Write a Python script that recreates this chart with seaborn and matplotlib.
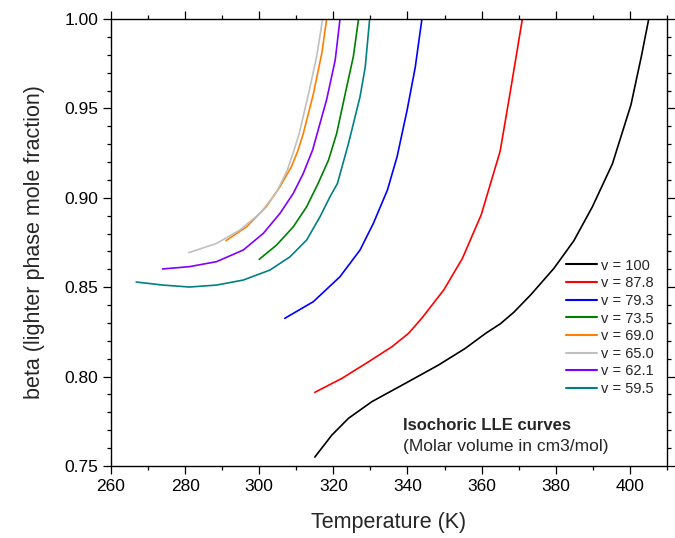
import numpy as np
import pandas as pd
import matplotlib
matplotlib.use("Agg")
import matplotlib.pyplot as plt
from matplotlib.ticker import MultipleLocator, FormatStrFormatter
import seaborn as sns

# Isochoric liquid-liquid equilibrium curves: temperature (K) vs. beta
labels = ["v = 100", "v = 87.8", "v = 79.3", "v = 73.5",
          "v = 69.0", "v = 65.0", "v = 62.1", "v = 59.5"]
colors = ["#000000", "#FF0000", "#0000FF", "#008000",
          "#FF8000", "#C0C0C0", "#8000FF", "#008080"]

t_100 = [315.0, 319.6, 324.1, 330.4, 339.4, 348.4, 355.6, 361.1, 365.1, 368.7,
         373.2, 379.5, 384.9, 389.9, 395.3, 400.3, 403.1, 405.1]
b_100 = [0.755, 0.7673, 0.7767, 0.786, 0.7962, 0.8065, 0.8158, 0.8242, 0.8296, 0.836,
         0.8456, 0.8605, 0.876, 0.895, 0.919, 0.952, 0.979, 1.000]

t_878 = [315.0, 322.3, 329.5, 335.8, 340.3, 344.0, 349.8, 354.8, 359.9, 365.0, 367.8, 371.0]
b_878 = [0.7912, 0.799, 0.8083, 0.8167, 0.8242, 0.8330, 0.8485, 0.866, 0.8905, 0.926, 0.960, 1.000]

t_793 = [306.9, 314.6, 321.8, 327.2, 330.8, 334.6, 337.2, 339.9, 342.1, 343.9]
b_793 = [0.8326, 0.8419, 0.8559, 0.8708, 0.8857, 0.9044, 0.923, 0.949, 0.973, 1.000]

t_735 = [300.0, 304.7, 309.2, 312.8, 315.9, 318.7, 320.9, 323.6, 325.4, 326.8]
b_735 = [0.8656, 0.8736, 0.8838, 0.895, 0.9081, 0.9211, 0.936, 0.962, 0.979, 1.000]

t_690 = [291.0, 296.6, 301.9, 305.6, 308.7, 310.5, 311.9, 314.6, 316.9, 318.2]
b_690 = [0.876, 0.8838, 0.895, 0.9062, 0.9174, 0.9267, 0.936, 0.958, 0.981, 1.000]

t_650 = [281.0, 288.5, 294.8, 300.2, 304.5, 307.6, 309.4, 310.8, 313.5, 315.5, 317.1]
b_650 = [0.8693, 0.8745, 0.882, 0.8913, 0.9025, 0.9155, 0.9267, 0.936, 0.960, 0.979, 1.000]

t_621 = [273.9, 281.2, 288.5, 295.7, 301.1, 305.6, 309.2, 311.9, 314.4, 318.2, 320.5, 321.8]
b_621 = [0.8602, 0.8615, 0.8643, 0.8708, 0.8801, 0.8913, 0.9025, 0.9137, 0.9267, 0.955, 0.977, 1.000]

t_595 = [266.8, 274.0, 281.2, 288.5, 295.7, 302.9, 308.3, 312.8, 316.4, 319.1, 321.1,
         324.1, 327.2, 328.6, 329.8]
b_595 = [0.8529, 0.8512, 0.8501, 0.8512, 0.854, 0.8596, 0.867, 0.8764, 0.8894, 0.9006, 0.908,
         0.9305, 0.9565, 0.973, 1.000]

temps = [t_100, t_878, t_793, t_735, t_690, t_650, t_621, t_595]
betas = [b_100, b_878, b_793, b_735, b_690, b_650, b_621, b_595]

frames = []
for lab, t, b in zip(labels, temps, betas):
    frames.append(pd.DataFrame({"T": t, "beta": b, "curve": lab}))
df = pd.concat(frames, ignore_index=True)

sns.set_style("ticks")
plt.rcParams["font.family"] = ["Liberation Sans", "DejaVu Sans"]

fig = plt.figure(figsize=(6.75, 5.38), dpi=100)
ax = fig.add_axes([0.1644, 0.1338, 0.8236, 0.8309])

sns.lineplot(data=df, x="T", y="beta", hue="curve", hue_order=labels,
             palette=dict(zip(labels, colors)), sort=False, estimator=None,
             linewidth=1.2, ax=ax, legend=True)

ax.set_xlim(260, 410)
ax.set_ylim(0.75, 1.00)
ax.xaxis.set_major_locator(MultipleLocator(20))
ax.xaxis.set_minor_locator(MultipleLocator(10))
ax.yaxis.set_major_locator(MultipleLocator(0.05))
ax.yaxis.set_minor_locator(MultipleLocator(0.01))
ax.yaxis.set_major_formatter(FormatStrFormatter("%.2f"))

for sp in ax.spines.values():
    sp.set_visible(True)
    sp.set_color("black")
    sp.set_linewidth(1.0)

ax.tick_params(which="both", direction="out", top=True, right=True,
               colors="black", width=0.9, labelsize=12.5)
ax.tick_params(which="major", length=5.5)
ax.tick_params(which="minor", length=3)

ax.set_xlabel("Temperature (K)", fontsize=15.5, labelpad=13)
ax.set_ylabel("beta (lighter phase mole fraction)", fontsize=15.5, labelpad=14)

handles, labs = ax.get_legend_handles_labels()
leg = ax.legend(handles, labs, loc="upper left", bbox_to_anchor=(0.819, 0.464),
                frameon=False, fontsize=10.5, handlelength=2.1,
                handletextpad=0.3, labelspacing=0.25, borderpad=0, borderaxespad=0)
for h in leg.get_lines():
    h.set_linewidth(1.5)

ax.text(0.525, 0.09, "Isochoric LLE curves", transform=ax.transAxes,
        fontsize=12, fontweight="bold", va="center", ha="left")
ax.text(0.525, 0.043, "(Molar volume in cm3/mol)", transform=ax.transAxes,
        fontsize=12.5, va="center", ha="left")

fig.savefig("out.png", dpi=100)
